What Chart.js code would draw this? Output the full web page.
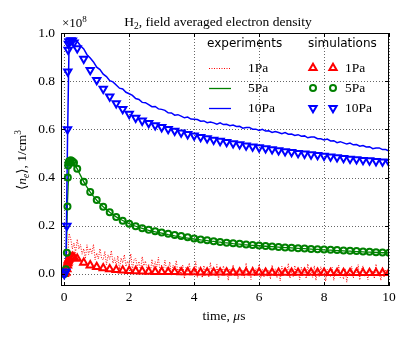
<!DOCTYPE html>
<html lang="en">
<head>
<meta charset="UTF-8" />
<title>H2, field averaged electron density</title>
<script src="https://cdn.jsdelivr.net/npm/chart.js"></script>
<style>
  body { margin: 0; background: #fff; }
  #chart { display: block; }
</style>
</head>
<body>
<canvas id="chart" width="415" height="340"></canvas>
<script>
// experiments, 1Pa (noisy, dense sampling), time in us, density in 1e8 / cm^3
const redTime = [
  0.00,0.05,0.10,0.15,0.20,0.25,0.30,0.35,0.40,0.45,
  0.50,0.55,0.60,0.65,0.70,0.75,0.80,0.85,0.90,0.95,
  1.00,1.05,1.10,1.15,1.20,1.25,1.30,1.35,1.40,1.45,
  1.50,1.55,1.60,1.65,1.70,1.75,1.80,1.85,1.90,1.95,
  2.00,2.05,2.10,2.15,2.20,2.25,2.30,2.35,2.40,2.45,
  2.50,2.55,2.60,2.65,2.70,2.75,2.80,2.85,2.90,2.95,
  3.00,3.05,3.10,3.15,3.20,3.25,3.30,3.35,3.40,3.45,
  3.50,3.55,3.60,3.65,3.70,3.75,3.80,3.85,3.90,3.95,
  4.00,4.05,4.10,4.15,4.20,4.25,4.30,4.35,4.40,4.45,
  4.50,4.55,4.60,4.65,4.70,4.75,4.80,4.85,4.90,4.95,
  5.00,5.05,5.10,5.15,5.20,5.25,5.30,5.35,5.40,5.45,
  5.50,5.55,5.60,5.65,5.70,5.75,5.80,5.85,5.90,5.95,
  6.00,6.05,6.10,6.15,6.20,6.25,6.30,6.35,6.40,6.45,
  6.50,6.55,6.60,6.65,6.70,6.75,6.80,6.85,6.90,6.95,
  7.00,7.05,7.10,7.15,7.20,7.25,7.30,7.35,7.40,7.45,
  7.50,7.55,7.60,7.65,7.70,7.75,7.80,7.85,7.90,7.95,
  8.00,8.05,8.10,8.15,8.20,8.25,8.30,8.35,8.40,8.45,
  8.50,8.55,8.60,8.65,8.70,8.75,8.80,8.85,8.90,8.95,
  9.00,9.05,9.10,9.15,9.20,9.25,9.30,9.35,9.40,9.45,
  9.50,9.55,9.60,9.65,9.70,9.75,9.80,9.85,9.90,9.95,
  10.00
];
const exp1Pa = [
  0.000,0.003,0.060,0.168,0.146,0.104,0.128,0.089,0.144,0.104,
  0.122,0.082,0.105,0.063,0.121,0.081,0.107,0.084,0.123,0.059,
  0.087,0.062,0.105,0.065,0.058,0.094,0.038,0.079,0.061,0.097,
  0.044,0.067,0.034,0.075,0.019,0.066,0.046,0.080,0.031,0.053,
  0.038,0.084,0.018,0.059,0.066,0.026,0.052,0.015,0.072,0.034,
  0.054,0.016,0.041,0.001,0.061,0.023,0.051,0.029,0.069,0.006,
  0.037,0.013,0.057,0.018,0.012,0.050,-0.006,0.036,0.018,0.056,
  0.003,0.027,-0.005,0.037,-0.019,0.029,0.010,0.045,-0.004,0.019,
  0.004,0.051,-0.014,0.028,0.030,-0.016,0.035,0.006,0.024,-0.013,
  0.048,-0.001,0.014,-0.009,0.039,-0.023,0.018,-0.007,0.034,0.007,
  0.028,-0.027,0.022,-0.001,0.038,-0.007,0.013,-0.020,0.028,0.004,
  0.017,-0.015,0.045,-0.004,0.009,-0.023,0.033,-0.010,0.022,0.002,
  0.040,-0.018,0.019,-0.012,0.027,-0.012,0.015,-0.021,0.037,0.000,
  0.021,-0.016,0.010,-0.029,0.032,-0.005,0.024,0.003,0.044,-0.018,
  0.013,-0.010,0.035,-0.003,0.022,-0.024,0.028,-0.001,0.017,-0.019,
  0.042,-0.007,0.009,-0.014,0.034,-0.027,0.014,-0.011,0.030,0.004,
  0.025,-0.030,0.019,-0.004,-0.010,0.028,-0.027,0.016,-0.001,0.037,
  -0.015,0.010,-0.022,0.021,-0.034,0.014,-0.004,0.031,-0.017,0.006,
  -0.008,0.039,-0.025,0.017,0.034,-0.011,0.009,-0.024,0.024,0.000,
  0.013,-0.019,0.041,-0.008,0.005,-0.027,0.029,-0.014,0.018,-0.002,
  0.036
];

// experiments, 5Pa and 10Pa
const expTime = [
  0, 0.05, 0.1, 0.15, 0.2,
  0.3, 0.4, 0.5, 0.6, 0.7, 0.8, 0.9, 1.0,
  1.1, 1.2, 1.3, 1.4, 1.5, 1.6, 1.7, 1.8, 1.9, 2.0,
  2.1, 2.2, 2.3, 2.4, 2.5, 2.6, 2.7, 2.8, 2.9, 3.0,
  3.1, 3.2, 3.3, 3.4, 3.5, 3.6, 3.7, 3.8, 3.9, 4.0,
  4.1, 4.2, 4.3, 4.4, 4.5, 4.6, 4.7, 4.8, 4.9, 5.0,
  5.1, 5.2, 5.3, 5.4, 5.5, 5.6, 5.7, 5.8, 5.9, 6.0,
  6.1, 6.2, 6.3, 6.4, 6.5, 6.6, 6.7, 6.8, 6.9, 7.0,
  7.1, 7.2, 7.3, 7.4, 7.5, 7.6, 7.7, 7.8, 7.9, 8.0,
  8.1, 8.2, 8.3, 8.4, 8.5, 8.6, 8.7, 8.8, 8.9, 9.0,
  9.1, 9.2, 9.3, 9.4, 9.5, 9.6, 9.7, 9.8, 9.9, 10.0
];
const exp5Pa = [
  0.000, 0.005, 0.300, 0.462, 0.468,
  0.458, 0.436, 0.409, 0.383, 0.360, 0.340, 0.322, 0.306,
  0.292, 0.279, 0.267, 0.256, 0.246, 0.237, 0.229, 0.222, 0.215, 0.209,
  0.203, 0.198, 0.193, 0.189, 0.185, 0.181, 0.178, 0.175, 0.172, 0.169,
  0.166, 0.163, 0.161, 0.158, 0.156, 0.153, 0.151, 0.149, 0.147, 0.145,
  0.143, 0.141, 0.140, 0.138, 0.136, 0.135, 0.133, 0.132, 0.130, 0.129,
  0.128, 0.126, 0.125, 0.124, 0.122, 0.121, 0.120, 0.119, 0.118, 0.117,
  0.116, 0.115, 0.114, 0.113, 0.112, 0.111, 0.110, 0.109, 0.109, 0.108,
  0.107, 0.106, 0.105, 0.105, 0.104, 0.103, 0.102, 0.102, 0.101, 0.100,
  0.099, 0.099, 0.098, 0.097, 0.097, 0.096, 0.095, 0.095, 0.094, 0.093,
  0.093, 0.092, 0.091, 0.091, 0.090, 0.089, 0.089, 0.088, 0.088, 0.087
];
const exp10Pa = [
  0.000, 0.010, 0.550, 0.972, 0.976,
  0.970, 0.965, 0.947, 0.934, 0.910, 0.896, 0.880, 0.858,
  0.848, 0.829, 0.819, 0.802, 0.797, 0.784, 0.771, 0.768, 0.754, 0.748,
  0.741, 0.728, 0.724, 0.712, 0.711, 0.703, 0.694, 0.695, 0.685, 0.683,
  0.679, 0.669, 0.668, 0.659, 0.661, 0.655, 0.648, 0.651, 0.643, 0.642,
  0.641, 0.634, 0.635, 0.628, 0.631, 0.627, 0.622, 0.627, 0.620, 0.621,
  0.615, 0.618, 0.612, 0.613, 0.605, 0.608, 0.608, 0.601, 0.601, 0.596,
  0.600, 0.593, 0.594, 0.587, 0.591, 0.587, 0.582, 0.587, 0.580, 0.581,
  0.575, 0.578, 0.572, 0.573, 0.565, 0.568, 0.568, 0.561, 0.561, 0.556,
  0.560, 0.552, 0.553, 0.545, 0.549, 0.544, 0.539, 0.543, 0.536, 0.537,
  0.530, 0.533, 0.527, 0.528, 0.520, 0.523, 0.523, 0.516, 0.516, 0.510
];

// simulations
const simTime = [
  0, 0.05, 0.08, 0.1, 0.11, 0.12, 0.13, 0.15, 0.2, 0.25, 0.3,
  0.4, 0.6, 0.8, 1.0,
  1.2, 1.4, 1.6, 1.8, 2.0,
  2.2, 2.4, 2.6, 2.8, 3.0,
  3.2, 3.4, 3.6, 3.8, 4.0,
  4.2, 4.4, 4.6, 4.8, 5.0,
  5.2, 5.4, 5.6, 5.8, 6.0,
  6.2, 6.4, 6.6, 6.8, 7.0,
  7.2, 7.4, 7.6, 7.8, 8.0,
  8.2, 8.4, 8.6, 8.8, 9.0,
  9.2, 9.4, 9.6, 9.8, 10.0
];
const sim1Pa = [
  0.000, 0.005, 0.020, 0.035, 0.045, 0.052, 0.058, 0.064, 0.070, 0.072, 0.070,
  0.063, 0.047, 0.036, 0.029,
  0.024, 0.020, 0.017, 0.015, 0.013,
  0.012, 0.011, 0.010, 0.009, 0.009,
  0.008, 0.008, 0.007, 0.007, 0.007,
  0.006, 0.006, 0.006, 0.006, 0.006,
  0.006, 0.006, 0.006, 0.006, 0.006,
  0.005, 0.005, 0.005, 0.005, 0.005,
  0.005, 0.005, 0.005, 0.005, 0.005,
  0.004, 0.004, 0.004, 0.004, 0.004,
  0.004, 0.004, 0.004, 0.004, 0.004
];
const sim5Pa = [
  0.000, 0.020, 0.088, 0.280, 0.400, 0.450, 0.462, 0.468, 0.472, 0.468, 0.462,
  0.437, 0.383, 0.340, 0.307,
  0.279, 0.256, 0.236, 0.221, 0.208,
  0.198, 0.190, 0.183, 0.177, 0.172,
  0.167, 0.162, 0.157, 0.152, 0.147,
  0.143, 0.140, 0.136, 0.133, 0.130,
  0.127, 0.125, 0.122, 0.120, 0.118,
  0.116, 0.114, 0.112, 0.110, 0.109,
  0.107, 0.106, 0.104, 0.103, 0.102,
  0.100, 0.099, 0.097, 0.096, 0.095,
  0.093, 0.092, 0.090, 0.089, 0.088
];
const sim10Pa = [
  0.000, 0.010, 0.200, 0.600, 0.840, 0.930, 0.955, 0.965, 0.970, 0.968, 0.960,
  0.936, 0.893, 0.846, 0.805,
  0.768, 0.736, 0.708, 0.684, 0.664,
  0.648, 0.636, 0.626, 0.617, 0.609,
  0.601, 0.594, 0.587, 0.580, 0.574,
  0.568, 0.563, 0.557, 0.552, 0.547,
  0.542, 0.538, 0.533, 0.529, 0.525,
  0.521, 0.517, 0.513, 0.509, 0.506,
  0.502, 0.499, 0.496, 0.493, 0.490,
  0.487, 0.484, 0.481, 0.478, 0.476,
  0.473, 0.471, 0.468, 0.466, 0.464
];

const xTicks = [0, 2, 4, 6, 8, 10];
const yTicks = [0.0, 0.2, 0.4, 0.6, 0.8, 1.0];
const pressures = ['1Pa', '5Pa', '10Pa'];

const RED = '#ff0000', GREEN = '#008000', BLUE = '#0000ff';
const serif = '"Liberation Serif", "DejaVu Serif", serif';
const sans = '"DejaVu Sans", sans-serif';
const TRI_R = 4.2, CIRC_R = 3.0, EDGE = 2;

function pairs(ts, vs) {
  return vs.map((v, i) => ({ x: ts[i], y: v }));
}

// draw a string made of pieces with different fonts / offsets
function drawRich(ctx, parts, x, y, align) {
  let w = 0;
  parts.forEach(p => { ctx.font = p.font; w += ctx.measureText(p.t).width; });
  let cx = align === 'center' ? x - w / 2 : x;
  ctx.textAlign = 'left';
  ctx.textBaseline = 'alphabetic';
  parts.forEach(p => {
    ctx.font = p.font;
    ctx.fillText(p.t, cx, y + (p.dy || 0));
    cx += ctx.measureText(p.t).width;
  });
}

function marker(ctx, style, x, y, color) {
  ctx.save();
  ctx.strokeStyle = color;
  ctx.lineWidth = EDGE;
  ctx.beginPath();
  if (style === 'circle') {
    ctx.arc(x, y, CIRC_R, 0, Math.PI * 2);
  } else {
    const r = TRI_R, s = style === 'down' ? -1 : 1;
    ctx.moveTo(x, y - s * r);
    ctx.lineTo(x + r * 0.866, y + s * r * 0.5);
    ctx.lineTo(x - r * 0.866, y + s * r * 0.5);
    ctx.closePath();
  }
  ctx.stroke();
  ctx.restore();
}

const decor = {
  id: 'decor',
  beforeDatasetsDraw(chart) {
    const { ctx, chartArea: a, scales: { x, y } } = chart;
    ctx.save();
    ctx.strokeStyle = 'rgba(0,0,0,0.6)';
    ctx.lineWidth = 1;
    ctx.setLineDash([1, 2]);
    ctx.beginPath();
    xTicks.forEach(v => {
      const px = Math.round(x.getPixelForValue(v)) + 0.5;
      ctx.moveTo(px, a.top); ctx.lineTo(px, a.bottom);
    });
    yTicks.forEach(v => {
      const py = Math.round(y.getPixelForValue(v)) + 0.5;
      ctx.moveTo(a.left, py); ctx.lineTo(a.right, py);
    });
    ctx.stroke();
    ctx.restore();
  },
  afterDatasetsDraw(chart) {
    const { ctx, chartArea: a, scales: { x, y } } = chart;
    ctx.save();

    // inward ticks on all four sides
    ctx.strokeStyle = '#000';
    ctx.lineWidth = 1;
    ctx.beginPath();
    xTicks.forEach(v => {
      const px = Math.round(x.getPixelForValue(v)) + 0.5;
      ctx.moveTo(px, a.bottom); ctx.lineTo(px, a.bottom - 4);
      ctx.moveTo(px, a.top); ctx.lineTo(px, a.top + 4);
    });
    yTicks.forEach(v => {
      const py = Math.round(y.getPixelForValue(v)) + 0.5;
      ctx.moveTo(a.left, py); ctx.lineTo(a.left + 4, py);
      ctx.moveTo(a.right, py); ctx.lineTo(a.right - 4, py);
    });
    ctx.stroke();

    // frame
    ctx.strokeRect(a.left + 0.5, a.top + 0.5, a.right - a.left - 1, a.bottom - a.top - 1);

    ctx.fillStyle = '#000';
    // title
    drawRich(ctx, [
      { t: 'H', font: '13.5px ' + serif },
      { t: '2', font: '9.5px ' + serif, dy: 3 },
      { t: ', field averaged electron density', font: '13.5px ' + serif }
    ], 218, 26, 'center');

    // offset text
    drawRich(ctx, [
      { t: '\u00d710', font: '13px ' + serif },
      { t: '8', font: '9px ' + serif, dy: -5 }
    ], 62, 27, 'left');

    // x axis label
    drawRich(ctx, [
      { t: 'time, ', font: '13.5px ' + serif },
      { t: '\u03bc', font: 'italic 13.5px ' + serif },
      { t: 's', font: '13.5px ' + serif }
    ], 224, 320, 'center');

    // y axis label
    ctx.save();
    ctx.translate(26, 160);
    ctx.rotate(-Math.PI / 2);
    drawRich(ctx, [
      { t: '\u27e8', font: '13.5px ' + serif },
      { t: 'n', font: 'italic 13.5px ' + serif },
      { t: 'e', font: 'italic 9.5px ' + serif, dy: 3 },
      { t: '\u27e9, 1/cm', font: '13.5px ' + serif },
      { t: '3', font: '9.5px ' + serif, dy: -5 }
    ], 0, 0, 'center');
    ctx.restore();

    // legend
    ctx.font = '12px ' + sans;
    ctx.textAlign = 'left';
    ctx.textBaseline = 'middle';
    ctx.fillText('experiments', 207, 44);
    ctx.fillText('simulations', 308, 44);

    const rows = [68, 88, 108];
    const colors = [RED, GREEN, BLUE];
    const styles = ['up', 'circle', 'down'];
    rows.forEach((ry, i) => {
      ctx.save();
      ctx.strokeStyle = colors[i];
      ctx.lineWidth = i === 0 ? 1 : 1.3;
      if (i === 0) ctx.setLineDash([1, 1.5]);
      ctx.beginPath();
      ctx.moveTo(209, ry + 0.5); ctx.lineTo(231, ry + 0.5);
      ctx.stroke();
      ctx.restore();

      marker(ctx, styles[i], 313, ry, colors[i]);
      marker(ctx, styles[i], 333, ry, colors[i]);

      ctx.fillStyle = '#000';
      ctx.font = '13.5px ' + serif;
      ctx.textBaseline = 'middle';
      ctx.fillText(pressures[i], 248, ry);
      ctx.fillText(pressures[i], 345, ry);
    });

    ctx.restore();
  }
};

const simPoint = (color, style, rotation, radius) => ({
  showLine: false,
  pointStyle: style,
  rotation: rotation,
  pointRadius: radius,
  pointBorderWidth: EDGE,
  pointBorderColor: color,
  pointBackgroundColor: 'rgba(0,0,0,0)',
  borderColor: color,
  backgroundColor: 'rgba(0,0,0,0)'
});

const expLine = (color, width, dash) => ({
  showLine: true,
  pointRadius: 0,
  borderColor: color,
  borderWidth: width,
  borderDash: dash,
  tension: 0
});

// dataset 0 is drawn on top, so simulations come first
const datasets = [
  Object.assign({ label: 'sim 10Pa', data: pairs(simTime, sim10Pa) }, simPoint(BLUE, 'triangle', 180, TRI_R)),
  Object.assign({ label: 'sim 5Pa', data: pairs(simTime, sim5Pa) }, simPoint(GREEN, 'circle', 0, CIRC_R)),
  Object.assign({ label: 'sim 1Pa', data: pairs(simTime, sim1Pa) }, simPoint(RED, 'triangle', 0, TRI_R)),
  Object.assign({ label: 'exp 10Pa', data: pairs(expTime, exp10Pa) }, expLine(BLUE, 1.5, [])),
  Object.assign({ label: 'exp 5Pa', data: pairs(expTime, exp5Pa) }, expLine(GREEN, 1.3, [])),
  Object.assign({ label: 'exp 1Pa', data: pairs(redTime, exp1Pa) }, expLine(RED, 1, [1, 1.5]))
];

new Chart(document.getElementById('chart'), {
  type: 'scatter',
  data: { datasets: datasets },
  options: {
    responsive: false,
    animation: false,
    devicePixelRatio: 1,
    layout: { padding: { left: 0, top: 33, right: 26, bottom: 0 } },
    plugins: {
      legend: { display: false },
      tooltip: { enabled: false },
      title: { display: false }
    },
    scales: {
      x: {
        type: 'linear',
        min: -0.1,
        max: 10,
        afterBuildTicks: s => { s.ticks = xTicks.map(v => ({ value: v })); },
        afterFit: s => { s.height = 54; },
        grid: { display: false, drawTicks: false },
        border: { display: false },
        ticks: {
          autoSkip: false,
          maxRotation: 0,
          padding: 3,
          color: '#000',
          font: { family: serif, size: 13.5 },
          callback: v => String(v)
        }
      },
      y: {
        type: 'linear',
        min: -0.05,
        max: 1.0,
        afterBuildTicks: s => { s.ticks = yTicks.map(v => ({ value: v })); },
        afterFit: s => { s.width = 61; },
        grid: { display: false, drawTicks: false },
        border: { display: false },
        ticks: {
          autoSkip: false,
          padding: 6,
          color: '#000',
          font: { family: serif, size: 13.5 },
          callback: v => v.toFixed(1)
        }
      }
    }
  },
  plugins: [decor]
});
</script>
</body>
</html>
